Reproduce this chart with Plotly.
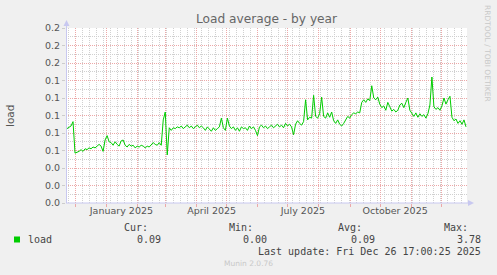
import pandas as pd
import plotly.graph_objects as go

# ---- data (one sample every 2 days) ----
start_date = "2024-11-22 17:00"
load_values = [
    0.085, 0.087, 0.088, 0.093,
    0.057, 0.058, 0.059, 0.061, 0.059, 0.062, 0.061, 0.063, 0.062, 0.064,
    0.063, 0.065, 0.067, 0.065, 0.059, 0.072, 0.077, 0.070, 0.069, 0.066,
    0.070, 0.067, 0.065, 0.071, 0.072, 0.066, 0.064, 0.067, 0.065, 0.066,
    0.063, 0.065, 0.064, 0.066, 0.065, 0.063, 0.065, 0.064, 0.066, 0.069,
    0.067, 0.066, 0.069, 0.066,
    0.095, 0.104, 0.055,
    0.086, 0.083, 0.086, 0.085, 0.087, 0.086, 0.088, 0.085, 0.087, 0.089,
    0.086, 0.088, 0.085, 0.087, 0.089, 0.086, 0.088,
    0.086, 0.083, 0.087, 0.085, 0.082, 0.086, 0.083, 0.085, 0.087, 0.097,
    0.086, 0.083, 0.097, 0.088, 0.085, 0.087, 0.083, 0.086, 0.082, 0.087,
    0.085, 0.086, 0.083, 0.088, 0.085, 0.087, 0.083, 0.077, 0.087, 0.089,
    0.086, 0.088, 0.085, 0.087, 0.089, 0.086, 0.088, 0.090, 0.087, 0.089,
    0.086, 0.091, 0.088, 0.090, 0.087, 0.078, 0.090, 0.094, 0.091, 0.089,
    0.093, 0.118, 0.095, 0.098, 0.097, 0.123, 0.099, 0.097, 0.102, 0.121,
    0.099, 0.097, 0.103, 0.098, 0.104,
    0.094, 0.091, 0.095, 0.090, 0.088, 0.091, 0.096, 0.099, 0.097, 0.101,
    0.103, 0.102, 0.104, 0.103, 0.115, 0.118, 0.115, 0.119, 0.117, 0.134,
    0.120, 0.118, 0.121, 0.113, 0.109, 0.111, 0.106, 0.115, 0.110, 0.105,
    0.107, 0.104, 0.106, 0.112, 0.114, 0.109, 0.115, 0.120, 0.106, 0.103,
    0.099, 0.103, 0.098, 0.102, 0.099, 0.101, 0.097, 0.102, 0.112, 0.144,
    0.110, 0.107, 0.109, 0.106, 0.111, 0.120, 0.113, 0.118, 0.122, 0.098,
    0.094, 0.096, 0.091, 0.094, 0.090, 0.095, 0.087,
]
dates = pd.date_range(start_date, periods=len(load_values), freq="2D")

x_range = ["2024-11-21 17:00", "2025-12-26 17:00"]
y_range = [0, 0.2]
month_labels = ["January 2025", "April 2025", "July 2025", "October 2025"]
month_label_pos = ["2025-01-16", "2025-04-16", "2025-07-16", "2025-10-16"]

title_text = "Load average - by year"
y_title = "load"
series_name = "load"
stat_headers = ["Cur:", "Min:", "Avg:", "Max:"]
stat_values = ["0.09", "0.00", "0.09", "3.78"]
last_update = "Last update: Fri Dec 26 17:00:25 2025"
footer = "Munin 2.0.76"
side_credit = "RRDTOOL / TOBI OETIKER"

# ---- geometry (pixels) ----
FW, FH = 497, 275
L, R, T, B = 66, 467, 28, 203
W, H = R - L, B - T

def px(p):
    return (p - L) / W

def py(p):
    return (B - p) / H

MGRID = "rgb(236,168,168)"
GRID = "rgb(208,208,208)"
DOTS = "1px,1px"
AXIS = "#c8c8f0"
GREEN = "#00cc00"
SANS = "DejaVu Sans"
MONO = "DejaVu Sans Mono"

fig = go.Figure()
fig.add_trace(go.Scatter(x=dates, y=load_values, mode="lines",
                         line=dict(color=GREEN, width=1),
                         showlegend=False, hoverinfo="skip"))
fig.add_trace(go.Scatter(x=dates[:1], y=[None], xaxis="x2", mode="lines",
                         showlegend=False, hoverinfo="skip"))

fig.update_layout(
    width=FW, height=FH,
    margin=dict(l=L, r=FW - R, t=T, b=FH - B),
    paper_bgcolor="#f0f0f0", plot_bgcolor="white",
    font=dict(family=SANS, size=9.5, color="#555"),
    title=dict(text=title_text, x=0.5, xref="paper", xanchor="center",
               y=1 - 19 / FH, yanchor="middle",
               font=dict(family=SANS, size=12.2, color="#666")),
    xaxis=dict(type="date", range=x_range, tick0="2024-12-01", dtick="M1",
               showgrid=True, gridcolor=MGRID, griddash=DOTS, gridwidth=1,
               ticks="outside", ticklen=3, tickcolor=MGRID,
               showticklabels=False, showline=False, zeroline=False,
               minor=dict(tick0="2024-12-01", dtick=7 * 86400000,
                          showgrid=True, gridcolor=GRID, griddash=DOTS,
                          ticks="")),
    xaxis2=dict(type="date", matches="x", overlaying="x", anchor="y",
                side="bottom", tickvals=month_label_pos, ticktext=month_labels,
                showgrid=False, ticks="", showline=False, zeroline=False,
                tickfont=dict(size=9.5, color="#555")),
    yaxis=dict(range=y_range, dtick=0.02, tick0=0, tickformat=".1f",
               showgrid=True, gridcolor=MGRID, griddash=DOTS, gridwidth=1,
               ticks="outside", ticklen=3, tickcolor="#ccc",
               showline=False, zeroline=False,
               minor=dict(dtick=0.01, showgrid=True, gridcolor=GRID,
                          griddash=DOTS, ticks="")),
)

shapes = []
# axis lines with arrows
shapes.append(dict(type="line", xref="paper", yref="paper",
                   x0=px(66.5), x1=px(66.5), y0=py(B), y1=py(23),
                   line=dict(color=AXIS, width=1)))
shapes.append(dict(type="line", xref="paper", yref="paper",
                   x0=px(L), x1=px(471), y0=py(203), y1=py(203),
                   line=dict(color=AXIS, width=1)))
shapes.append(dict(type="path", xref="paper", yref="paper",
                   path=f"M {px(63.5)} {py(26)} L {px(66.5)} {py(20)} L {px(69.5)} {py(26)} Z",
                   fillcolor=AXIS, line=dict(width=0)))
shapes.append(dict(type="path", xref="paper", yref="paper",
                   path=f"M {px(468)} {py(200)} L {px(474)} {py(203)} L {px(468)} {py(206)} Z",
                   fillcolor=AXIS, line=dict(width=0)))
# legend swatch
shapes.append(dict(type="rect", xref="paper", yref="paper",
                   x0=px(14), x1=px(20), y0=py(236.5), y1=py(242.5),
                   fillcolor=GREEN, line=dict(width=0)))
fig.update_layout(shapes=shapes)

ann = []
def text(s, x, y, xanchor="left", size=10, color="#444", family=MONO, angle=0):
    ann.append(dict(text=s, xref="paper", yref="paper", x=px(x), y=py(y),
                    xanchor=xanchor, yanchor="middle", showarrow=False,
                    textangle=angle, font=dict(family=family, size=size, color=color)))

text(y_title, 10, 116, xanchor="center", size=10.5, color="#555", family=SANS, angle=-90)
text(series_name, 26, 239.5)
header_right = [150, 255, 363.5, 470]
value_right = [162.5, 269, 376.5, 482.5]
for h, hx in zip(stat_headers, header_right):
    text(h, hx, 227.7, xanchor="right")
for v, vx in zip(stat_values, value_right):
    text(v, vx, 239.5, xanchor="right")
text(last_update, 482.5, 251.7, xanchor="right")
text(footer, 248, 263.5, xanchor="center", size=7.5, color="#c8c8c8", family=SANS)
text(side_credit, 488, 53, xanchor="center", size=7.5, color="#c8c8c8", family=SANS, angle=90)
fig.update_layout(annotations=ann)

fig.write_html("out.html")
